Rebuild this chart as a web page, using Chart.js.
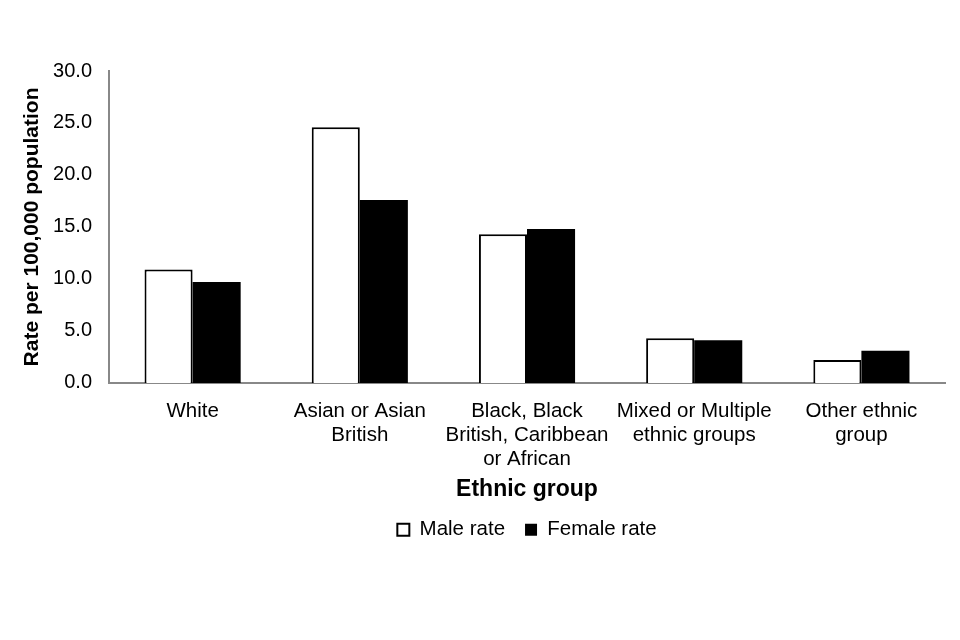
<!DOCTYPE html>
<html>
<head>
<meta charset="utf-8">
<script src="https://cdn.jsdelivr.net/npm/chart.js@4"></script>
<style>
  html, body { margin: 0; padding: 0; background: #fff; }
  #wrap { width: 960px; height: 640px; }
</style>
</head>
<body>
<div id="wrap"><canvas id="myChart" width="960" height="640"></canvas></div>
<script>
const categories = [
  'White',
  ['Asian or Asian', 'British'],
  ['Black, Black', 'British, Caribbean', 'or African'],
  ['Mixed or Multiple', 'ethnic groups'],
  ['Other ethnic', 'group']
];
const maleRate = [10.9, 24.6, 14.3, 4.3, 2.2];
const femaleRate = [9.7, 17.6, 14.8, 4.1, 3.1];
const yTicks = [0, 5, 10, 15, 20, 25, 30];

Chart.defaults.font.family = '"Liberation Sans", Arial, sans-serif';
Chart.defaults.color = '#000';

// centre the legend under the plot area instead of the whole canvas
const centreLegend = {
  id: 'centreLegend',
  afterLayout(chart) {
    const lg = chart.legend;
    if (!lg) return;
    const shift = (chart.chartArea.left + chart.chartArea.right) / 2 - (lg.left + lg.right) / 2;
    lg.left += shift;
    lg.right += shift;
  }
};

const ctx = document.getElementById('myChart');

new Chart(ctx, {
  type: 'bar',
  data: {
    labels: categories,
    datasets: [{
      label: 'Male rate',
      data: maleRate,
      backgroundColor: '#fff',
      borderColor: '#000',
      borderWidth: 2,
      borderSkipped: 'bottom'
    }, {
      label: 'Female rate',
      data: femaleRate,
      backgroundColor: '#000',
      borderColor: '#000',
      borderWidth: 0
    }]
  },
  plugins: [centreLegend],
  options: {
    responsive: false,
    animation: false,
    layout: {
      padding: { top: 71, left: 20, right: 15, bottom: 90 }
    },
    datasets: {
      bar: { barPercentage: 1, categoryPercentage: 0.575 }
    },
    plugins: {
      legend: {
        position: 'bottom',
        labels: {
          font: { size: 20.5 },
          boxWidth: 12,
          boxHeight: 12,
          padding: 20,
          useBorderRadius: false
        }
      },
      tooltip: { enabled: false }
    },
    scales: {
      x: {
        grid: { display: false, drawTicks: false },
        border: { color: '#888', width: 2 },
        ticks: { font: { size: 20.5, lineHeight: '24px' }, maxRotation: 0, autoSkip: false, padding: 16 },
        title: {
          display: true,
          text: 'Ethnic group',
          font: { size: 23, weight: 'bold' },
          padding: { top: -11, bottom: -4 }
        }
      },
      y: {
        min: 0,
        max: 30,
        afterBuildTicks: (scale) => { scale.ticks = yTicks.map(v => ({ value: v })); },
        afterFit: (scale) => { scale.width = 89; },
        grid: { display: false, drawTicks: false },
        border: { color: '#888', width: 2 },
        ticks: {
          font: { size: 20 },
          padding: 17,
          callback: (v) => Number(v).toFixed(1)
        },
        title: {
          display: true,
          text: 'Rate per 100,000 population',
          font: { size: 21, weight: 'bold' },
          padding: 0
        }
      }
    }
  }
});
</script>
</body>
</html>
